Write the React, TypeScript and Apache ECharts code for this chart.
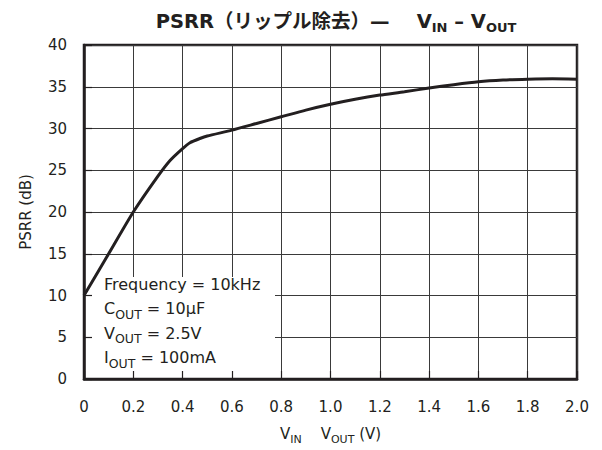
import React, { useEffect, useRef } from 'react';
import * as echarts from 'echarts';

// V_IN - V_OUT (V)
const vDiff = [0, 0.1, 0.2, 0.3, 0.35, 0.4, 0.43, 0.47, 0.5, 0.6, 0.7, 0.8, 0.9, 1.0, 1.1, 1.2, 1.3, 1.4, 1.5, 1.6, 1.7, 1.8, 1.9, 2.0];
// PSRR (dB)
const psrr = [10, 15, 20, 24.3, 26.2, 27.6, 28.3, 28.8, 29.1, 29.8, 30.6, 31.4, 32.2, 32.9, 33.5, 34.0, 34.4, 34.85, 35.25, 35.6, 35.8, 35.9, 35.95, 35.9];

const xTickLabels = ['0', '0.2', '0.4', '0.6', '0.8', '1.0', '1.2', '1.4', '1.6', '1.8', '2.0'];
const yTickLabels = ['0', '5', '10', '15', '20', '25', '30', '35', '40'];

const conditions = [
  '{n|Frequency = 10kHz}',
  '{n|C}{s|OUT}{n| = 10µF}',
  '{n|V}{s|OUT}{n| = 2.5V}',
  '{n|I}{s|OUT}{n| = 100mA}',
];

const FONT = "'DejaVu Sans', 'Noto Sans CJK JP', sans-serif";
const INK = '#231f20';
const GRID = '#3a3a3a';

export default function App() {
  const ref = useRef<HTMLDivElement>(null);

  useEffect(() => {
    if (!ref.current) return;
    const chart = echarts.init(ref.current, undefined, { renderer: 'svg' });

    const axisTickOverlay = {
      show: true,
      inside: true,
      length: 8,
      lineStyle: { color: INK, width: 1.2 },
    };
    const axisLineOverlay = {
      show: true,
      onZero: false,
      lineStyle: { color: INK, width: 2.5 },
    };

    const option: any = {
      animation: false,
      backgroundColor: '#ffffff',
      textStyle: { fontFamily: FONT },
      title: {
        text: '{b|PSRR（リップル除去）—}{b|    V}{s|IN}{b| – V}{s|OUT}',
        left: 331,
        textAlign: 'center',
        top: 3,
        textStyle: {
          rich: {
            b: { fontFamily: FONT, fontWeight: 'bold', fontSize: 19.5, lineHeight: 26, color: INK },
            s: { fontFamily: FONT, fontWeight: 'bold', fontSize: 13, lineHeight: 16, verticalAlign: 'bottom', color: INK },
          },
        },
      },
      grid: {
        left: 84,
        top: 45,
        right: 25,
        bottom: 71,
        show: true,
        borderColor: INK,
        borderWidth: 2.5,
        backgroundColor: 'transparent',
      },
      xAxis: [
        {
          type: 'value',
          min: 0,
          max: 2,
          interval: 0.2,
          position: 'bottom',
          z: 0,
          axisLine: { show: false },
          axisTick: { show: false },
          splitLine: { show: true, lineStyle: { color: GRID, width: 1 } },
          axisLabel: {
            margin: 20,
            fontSize: 15,
            color: INK,
            fontFamily: FONT,
            formatter: (v: number) => xTickLabels[Math.round(v / 0.2)] ?? '',
          },
          name: '{v|V}{s|IN}{v|    V}{s|OUT}{v| (V)}',
          nameLocation: 'middle',
          nameGap: 44,
          nameTextStyle: {
            rich: {
              v: { fontFamily: FONT, fontSize: 15, lineHeight: 22, color: INK },
              s: { fontFamily: FONT, fontSize: 11, lineHeight: 14, verticalAlign: 'bottom', color: INK },
            },
          },
        },
        {
          type: 'value',
          min: 0,
          max: 2,
          interval: 0.2,
          position: 'bottom',
          z: 4,
          axisLine: axisLineOverlay,
          axisTick: axisTickOverlay,
          axisLabel: { show: false },
          splitLine: { show: false },
        },
      ],
      yAxis: [
        {
          type: 'value',
          min: 0,
          max: 40,
          interval: 5,
          position: 'left',
          z: 0,
          axisLine: { show: false },
          axisTick: { show: false },
          splitLine: { show: true, lineStyle: { color: GRID, width: 1 } },
          axisLabel: {
            margin: 17,
            fontSize: 15,
            color: INK,
            fontFamily: FONT,
            formatter: (v: number) => yTickLabels[Math.round(v / 5)] ?? '',
          },
          name: 'PSRR (dB)',
          nameLocation: 'middle',
          nameRotate: 90,
          nameGap: 51,
          nameTextStyle: { fontFamily: FONT, fontSize: 15, color: INK },
        },
        {
          type: 'value',
          min: 0,
          max: 40,
          interval: 5,
          position: 'left',
          z: 4,
          axisLine: axisLineOverlay,
          axisTick: axisTickOverlay,
          axisLabel: { show: false },
          splitLine: { show: false },
        },
      ],
      graphic: [
        {
          type: 'rect',
          z: 1,
          left: 86,
          top: 277,
          shape: { width: 189, height: 100 },
          style: { fill: '#ffffff' },
          silent: true,
        },
        {
          type: 'text',
          z: 5,
          left: 104,
          top: 276,
          style: {
            text: conditions.join('\n'),
            rich: {
              n: { fontFamily: FONT, fontSize: 16, lineHeight: 24.5, fill: INK },
              s: { fontFamily: FONT, fontSize: 12.5, lineHeight: 16, verticalAlign: 'bottom', fill: INK },
            },
          },
        },
      ],
      series: [
        {
          type: 'line',
          xAxisIndex: 0,
          yAxisIndex: 0,
          data: vDiff.map((x, i) => [x, psrr[i]]),
          symbol: 'none',
          showSymbol: false,
          smooth: 0.2,
          z: 3,
          lineStyle: { color: INK, width: 3 },
        },
      ],
    };

    chart.setOption(option);
    return () => chart.dispose();
  }, []);

  return (
    <div
      ref={ref}
      style={{ position: 'absolute', left: 0, top: 0, width: 602, height: 450 }}
    />
  );
}
